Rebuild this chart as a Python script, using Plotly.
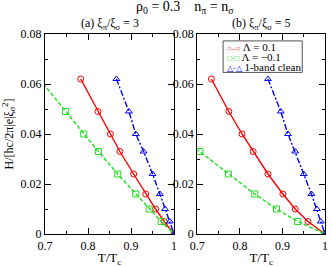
import plotly.graph_objects as go

# ---- data ----
H_levels = [0.062, 0.049, 0.040, 0.033, 0.024, 0.016, 0.010, 0.005, 0.0]

# panel (a): xi_pi/xi_sigma = 3
Ta_pos = [0.783, 0.823, 0.852, 0.874, 0.906, 0.934, 0.957, 0.977, 1.0]
Ta_neg = [0.687, 0.748, 0.790, 0.824, 0.869, 0.911, 0.942, 0.970, 1.0]
Ta_clean = [0.866, 0.895, 0.911, 0.929, 0.950, 0.967, 0.979, 0.990, 1.0]

# panel (b): xi_pi/xi_sigma = 5
Tb_pos = [0.733, 0.774, 0.805, 0.831, 0.866, 0.901, 0.930, 0.960, 1.0]
Tb_neg_H = [0.040, 0.033, 0.024, 0.016, 0.010, 0.005, 0.0]
Tb_neg = [0.652, 0.706, 0.773, 0.835, 0.886, 0.936, 1.0]
Tb_clean = [0.866, 0.896, 0.913, 0.930, 0.950, 0.968, 0.981, 0.990, 1.0]

series_names = ["Λ = 0.1", "Λ = −0.1", "1-band clean"]
x_ticks = [0.7, 0.8, 0.9, 1.0]
x_ticktext = ["0.7", "0.8", "0.9", "1"]
y_ticks = [0, 0.02, 0.04, 0.06, 0.08]
y_ticktext = ["0", "0.02", "0.04", "0.06", "0.08"]

FONT = "Liberation Serif, Times New Roman, serif"
RED, GREEN, BLUE = "#ff0000", "#22dd22", "#0000ff"
COLORS = [RED, GREEN, BLUE]
DASHES = ["solid", "4px,2px", "6px,2px,2px,2px"]
SYMBOLS = ["circle-open", "square-open", "triangle-up-open"]

fig = go.Figure()

def add(x, y, i, xa, ya):
    fig.add_trace(go.Scatter(
        x=x, y=y, mode="lines+markers", name=series_names[i], showlegend=False,
        xaxis=xa, yaxis=ya,
        line=dict(color=COLORS[i], width=1.4, dash=DASHES[i]),
        marker=dict(symbol=SYMBOLS[i], size=6, color=COLORS[i],
                    line=dict(color=COLORS[i], width=1)),
    ))

add(Ta_pos, H_levels, 0, "x", "y")
add(Ta_neg, H_levels, 1, "x", "y")
add(Ta_clean, H_levels, 2, "x", "y")
add(Tb_pos, H_levels, 0, "x2", "y2")
add(Tb_neg, Tb_neg_H, 1, "x2", "y2")
add(Tb_clean, H_levels, 2, "x2", "y2")

W, H = 332, 267
ml, mr, mt, mb = 45, 4, 34, 30
pw = W - ml - mr
ph = H - mt - mb
da = [0, 130.5 / pw]
db = [154 / pw, 1]

def px(xp):  # pixel -> paper x
    return (xp - ml) / pw

def py(yp):  # pixel -> paper y
    return (H - mb - yp) / ph

axis_common = dict(
    showline=True, linecolor="black", linewidth=1.2, mirror="ticks",
    ticks="inside", ticklen=6, tickwidth=1, tickcolor="black",
    showgrid=False, zeroline=False,
    tickfont=dict(family=FONT, size=12, color="black"),
)
xax = dict(axis_common, range=[0.7, 1.0], tickvals=x_ticks, ticktext=x_ticktext,
           minor=dict(ticks="inside", ticklen=3, dtick=0.05, tick0=0.7, tickcolor="black"),
           title=dict(text="T/T<sub>c</sub>", font=dict(family=FONT, size=13, color="black"), standoff=1))
yax = dict(axis_common, range=[0, 0.08], tickvals=y_ticks, ticktext=y_ticktext,
           minor=dict(ticks="inside", ticklen=3, dtick=0.01, tick0=0, tickcolor="black"))

# legend (drawn as a box + text rows, Grace style, inside panel b)
legend_syms = ["○–○", "□-□", "△-△"]
annotations = [
    dict(text="ρ<sub>0</sub> = 0.3    n<sub>π</sub> = n<sub>σ</sub>", xref="paper", yref="paper",
         x=0.5, y=1, yshift=16, xanchor="center", yanchor="bottom", showarrow=False,
         font=dict(family=FONT, size=14, color="black")),
    dict(text="(a) ξ<sub>π</sub>/ξ<sub>σ</sub> = 3", xref="paper", yref="paper",
         x=sum(da) / 2, y=1, yshift=0, xanchor="center", yanchor="bottom", showarrow=False,
         font=dict(family=FONT, size=12, color="black")),
    dict(text="(b) ξ<sub>π</sub>/ξ<sub>σ</sub> = 5", xref="paper", yref="paper",
         x=sum(db) / 2, y=1, yshift=0, xanchor="center", yanchor="bottom", showarrow=False,
         font=dict(family=FONT, size=12, color="black")),
]
row_y = [47, 57, 67]
for i in range(3):
    annotations.append(dict(
        text=f'<span style="color:{COLORS[i]};font-size:8px">{legend_syms[i]}</span> {series_names[i]}',
        xref="paper", yref="paper", x=px(227), y=py(row_y[i]), xanchor="left", yanchor="middle",
        showarrow=False, font=dict(family=FONT, size=11, color="black")))

fig.update_layout(
    width=W, height=H,
    margin=dict(l=ml, r=mr, t=mt, b=mb),
    paper_bgcolor="white", plot_bgcolor="white",
    font=dict(family=FONT, size=12, color="black"),
    xaxis=dict(xax, domain=da, anchor="y"),
    yaxis=dict(yax, anchor="x",
               title=dict(text="H/[hc/2π|e|ξ<sub>σ</sub><sup>2</sup>]",
                          font=dict(family=FONT, size=12, color="black"), standoff=4)),
    xaxis2=dict(xax, domain=db, anchor="y2"),
    yaxis2=dict(yax, anchor="x2"),
    showlegend=False,
    shapes=[dict(type="rect", xref="paper", yref="paper",
                 x0=px(225), x1=px(305), y0=py(73), y1=py(41),
                 line=dict(color="#555555", width=1), fillcolor="white", layer="above")],
    annotations=annotations,
)

fig.write_html("out.html", config={"displayModeBar": False},
               post_script="document.body.style.margin='0';")
